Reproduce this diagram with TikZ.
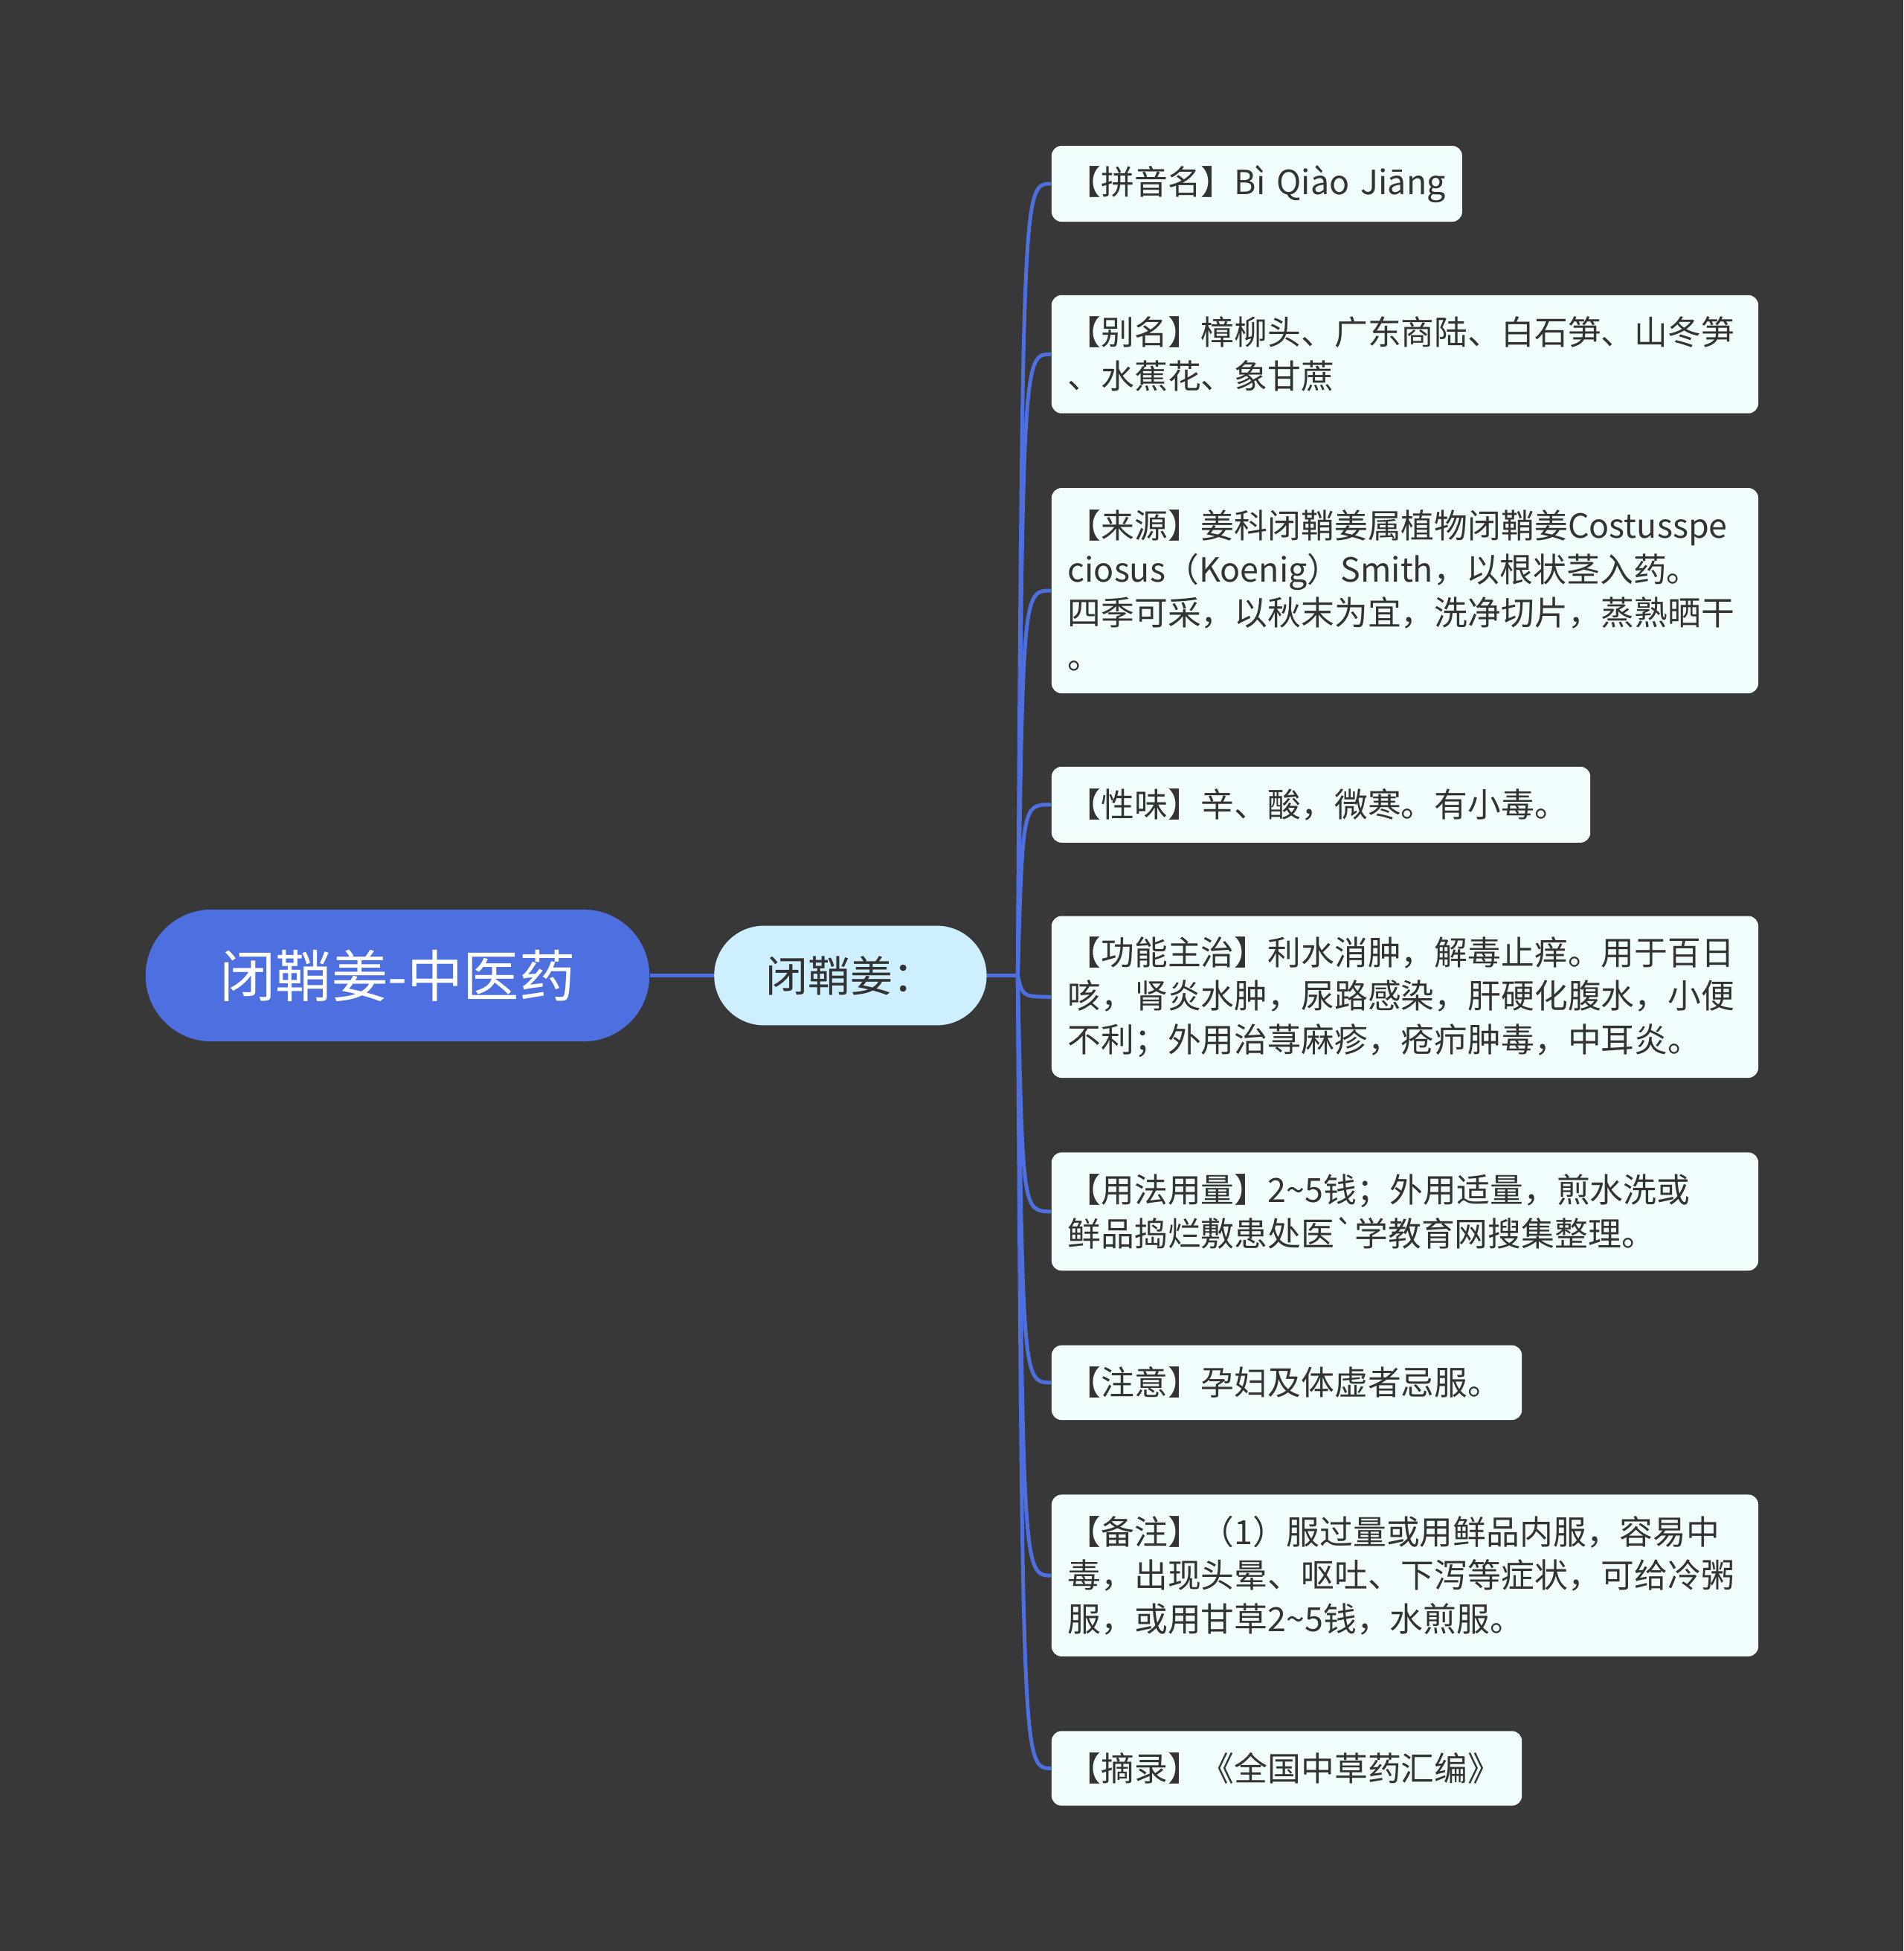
\documentclass[tikz,border=0pt]{standalone}
\usepackage{fontspec}
\setmainfont{Noto Sans CJK SC}
\definecolor{bg}{HTML}{393839}
\definecolor{rootc}{HTML}{4D6FE0}
\definecolor{midc}{HTML}{CDEFFF}
\definecolor{leafc}{HTML}{F1FCFC}
\definecolor{txt}{HTML}{333333}
\definecolor{linec}{HTML}{4D6FE0}
\begin{document}
\begin{tikzpicture}[x=1pt,y=-1pt,
  leaf/.style={draw=none,fill=leafc,rounded corners=8pt,anchor=north west,align=left,inner xsep=13pt,inner ysep=0pt,text=txt,font=\fontsize{26.8}{35}\selectfont},
  conn/.style={draw=linec,line width=3pt}]
\fill[bg] (0,0) rectangle (1530,1568);
\useasboundingbox (0,0) rectangle (1530,1568);
\node[fill=rootc,rounded corners=53pt,minimum width=405pt,minimum height=106pt,text=white,font=\fontsize{45}{50}\selectfont] (root) at (319.5,784) {闭鞘姜-中医药};
\node[fill=midc,rounded corners=40pt,minimum width=219pt,minimum height=80pt,text=txt,font=\fontsize{34}{40}\selectfont] (mid) at (683.5,784) {闭鞘姜：};
\draw[conn] (root.east) -- (mid.west);
\coordinate (j) at (818,784);
\draw[conn] (mid.east) -- (j);
\def\lf#1#2#3#4#5{\node[leaf,text width=\dimexpr#3pt-26pt\relax,minimum height=#4pt] (#1) at (845,#2) {#5};
  \draw[conn] (j) .. controls (822,{#2+#4/2}) .. (#1.west);}
\lf{a}{117}{330}{61}{【拼音名】Bì Qiào Jiāng}
\lf{b}{237}{568}{95}{【别名】樟柳头、广东商陆、白石笋、山冬笋\\、水蕉花、象甘蔗}
\lf{c}{392}{568}{165}{【来源】姜科闭鞘姜属植物闭鞘姜Costusspe\\ciosus（Koenig）Smith，以根状茎入药。\\四季可采，以秋末为宜，洗净切片，蒸熟晒干\\。}
\lf{d}{616}{433}{61}{【性味】辛、酸，微寒。有小毒。}
\lf{e}{736}{568}{130}{【功能主治】利水消肿，解毒止痒。用于百日\\咳，肾炎水肿，尿路感染，肝硬化腹水，小便\\不利；外用治荨麻疹，疮疖肿毒，中耳炎。}
\lf{f}{926}{568}{95}{【用法用量】2\textasciitilde5钱；外用适量，煎水洗或\\鲜品捣烂敷患处医\textasciigrave 学教育网搜集整理。}
\lf{g}{1081}{378}{60}{【注意】孕妇及体虚者忌服。}
\lf{h}{1201}{568}{130}{【备注】（1）服过量或用鲜品内服，容易中\\毒，出现头晕、呕吐、下泻等症状，可给冷粥\\服，或用甘草2\textasciitilde5钱，水煎服。}
\lf{i}{1391}{378}{60}{【摘录】《全国中草药汇编》}
\end{tikzpicture}
\end{document}
